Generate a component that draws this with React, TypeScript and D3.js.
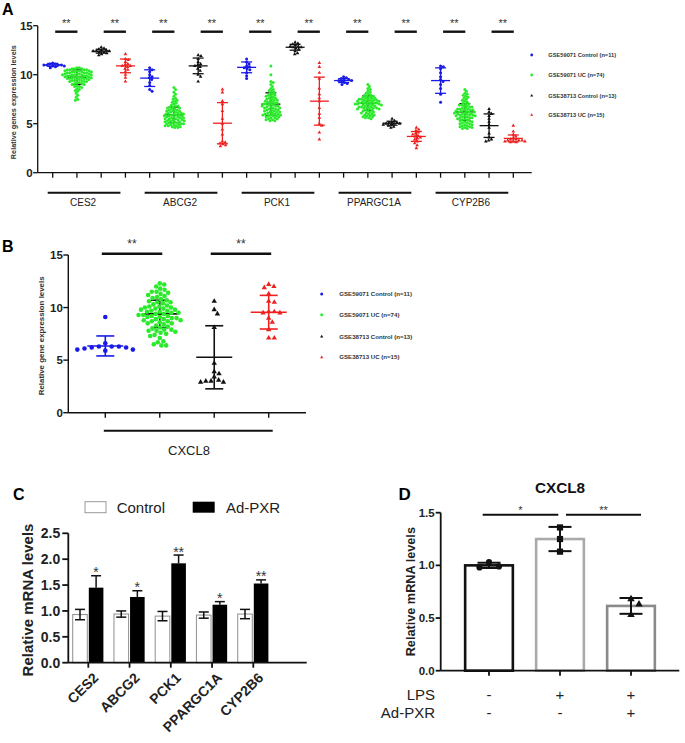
import React from 'react';
import * as d3 from 'd3';

const FONT = "'Liberation Sans', Arial, Helvetica, sans-serif";

// ---------- Panel A / B shared cohorts ----------
const cohortLabels = ['GSE59071 Control (n=11)', 'GSE59071 UC (n=74)', 'GSE38713 Control (n=13)', 'GSE38713 UC (n=15)'];
const cohortColors = ['#1a1ae6', '#2bea2b', '#111111', '#ee2020'];
const cohortBarColors = ['#1a1ae6', '#111111', '#111111', '#ee2020'];
const cohortShapes = ['circle', 'circle', 'triangle', 'triangle'];

// ---------- Panel A ----------
const genesA = ['CES2', 'ABCG2', 'PCK1', 'PPARGC1A', 'CYP2B6'];
const yTicksA = [0, 5, 10, 15];
const meansA = [11.0, 9.75, 12.4, 10.9, 9.65, 5.9, 10.9, 5.05, 10.75, 7.0, 12.8, 7.3, 9.4, 7.1, 5.05, 3.7, 9.4, 6.2, 4.8, 3.5];
const sdsA = [0.15, 0.75, 0.2, 0.7, 0.85, 0.8, 0.8, 2.1, 0.55, 1.15, 0.3, 2.45, 0.2, 0.75, 0.2, 0.5, 1.3, 0.85, 1.2, 0.35];

const ptsCES2 = [
  [11.1, 11.0, 11.0, 10.9, 11.0, 11.1, 10.8, 10.9, 11.0, 11.2, 10.7],
  [10.7, 10.7, 10.6, 10.6, 10.6, 10.5, 10.5, 10.5, 10.5, 10.4,
    10.4, 10.4, 10.4, 10.3, 10.3, 10.3, 10.3, 10.2, 10.2, 10.2,
    10.2, 10.1, 10.1, 10.1, 10.1, 10.0, 10.0, 10.0, 10.0, 10.0,
    9.9, 9.9, 9.9, 9.9, 9.8, 9.8, 9.8, 9.8, 9.7, 9.7,
    9.7, 9.7, 9.6, 9.6, 9.6, 9.6, 9.5, 9.5, 9.5, 9.4,
    9.4, 9.4, 9.3, 9.3, 9.3, 9.2, 9.2, 9.1, 9.1, 9.0,
    9.0, 8.9, 8.8, 8.8, 8.7, 8.6, 8.5, 8.4, 8.3, 8.1,
    7.9, 7.7, 7.5, 7.4],
  [12.8, 12.7, 12.6, 12.5, 12.5, 12.4, 12.4, 12.4, 12.3, 12.3, 12.2, 12.1, 12.0],
  [12.1, 11.6, 11.5, 11.3, 11.1, 11.0, 10.9, 10.9, 10.8, 10.6, 10.5, 10.3, 10.0, 9.7, 9.3],
];
const ptsABCG2 = [
  [10.7, 10.5, 10.3, 10.0, 9.8, 9.7, 9.5, 9.2, 8.9, 8.5, 8.3],
  [8.7, 8.5, 8.2, 8.0, 7.8, 7.6, 7.5, 7.4, 7.3, 7.2,
    7.1, 7.0, 6.9, 6.8, 6.8, 6.7, 6.7, 6.6, 6.6, 6.5,
    6.5, 6.4, 6.4, 6.3, 6.3, 6.3, 6.2, 6.2, 6.1, 6.1,
    6.1, 6.0, 6.0, 6.0, 5.9, 5.9, 5.9, 5.8, 5.8, 5.8,
    5.7, 5.7, 5.7, 5.6, 5.6, 5.6, 5.5, 5.5, 5.5, 5.4,
    5.4, 5.4, 5.3, 5.3, 5.3, 5.2, 5.2, 5.2, 5.1, 5.1,
    5.1, 5.0, 5.0, 5.0, 4.9, 4.9, 4.9, 4.8, 4.8, 4.8,
    4.7, 4.7, 4.6, 4.6],
  [12.0, 11.9, 11.6, 11.3, 11.1, 11.0, 10.9, 10.8, 10.6, 10.4, 10.0, 9.8, 9.3],
  [8.5, 8.2, 7.3, 7.0, 6.3, 5.5, 5.0, 4.4, 3.9, 3.2, 3.1, 3.0, 2.9, 2.8, 2.7],
];
const ptsPCK1 = [
  [11.6, 11.3, 11.1, 10.9, 10.8, 10.7, 10.6, 10.5, 10.2, 9.9, 9.6],
  [10.9, 10.0, 9.3, 9.2, 9.0, 8.8, 8.6, 8.5, 8.4, 8.3,
    8.2, 8.1, 8.0, 7.9, 7.9, 7.8, 7.8, 7.7, 7.6, 7.6,
    7.5, 7.5, 7.4, 7.4, 7.3, 7.3, 7.2, 7.2, 7.1, 7.1,
    7.0, 7.0, 7.0, 6.9, 6.9, 6.8, 6.8, 6.8, 6.7, 6.7,
    6.6, 6.6, 6.6, 6.5, 6.5, 6.4, 6.4, 6.4, 6.3, 6.3,
    6.2, 6.2, 6.2, 6.1, 6.1, 6.0, 6.0, 6.0, 5.9, 5.9,
    5.9, 5.8, 5.8, 5.8, 5.7, 5.7, 5.6, 5.6, 5.5, 5.5,
    5.4, 5.4, 5.3, 5.3],
  [13.3, 13.2, 13.1, 13.0, 12.9, 12.9, 12.8, 12.8, 12.7, 12.6, 12.4, 12.2, 12.1],
  [11.2, 10.8, 10.2, 9.6, 8.6, 8.0, 7.6, 7.3, 6.6, 6.0, 5.6, 5.0, 4.8, 4.1, 3.4],
];
const ptsPPARGC1A = [
  [9.8, 9.7, 9.6, 9.5, 9.5, 9.4, 9.4, 9.3, 9.2, 9.1, 9.0],
  [9.0, 8.8, 8.6, 8.5, 8.3, 8.2, 8.1, 8.0, 7.9, 7.9,
    7.8, 7.8, 7.7, 7.7, 7.6, 7.6, 7.5, 7.5, 7.5, 7.4,
    7.4, 7.4, 7.3, 7.3, 7.3, 7.2, 7.2, 7.2, 7.1, 7.1,
    7.1, 7.1, 7.0, 7.0, 7.0, 7.0, 6.9, 6.9, 6.9, 6.8,
    6.8, 6.8, 6.7, 6.7, 6.7, 6.6, 6.6, 6.6, 6.5, 6.5,
    6.5, 6.4, 6.4, 6.3, 6.3, 6.2, 6.2, 6.1, 6.1, 6.0,
    6.0, 5.9, 5.9, 5.8, 5.8, 5.7, 5.7, 5.6, 5.6, 5.5,
    7.6, 7.4, 7.0, 6.6],
  [5.5, 5.3, 5.2, 5.1, 5.1, 5.0, 5.0, 5.0, 4.9, 4.9, 4.8, 4.7, 4.6],
  [4.6, 4.4, 4.3, 4.1, 4.0, 3.9, 3.8, 3.7, 3.6, 3.5, 3.4, 3.2, 3.0, 2.8, 2.5],
];
const ptsCYP2B6 = [
  [10.9, 10.8, 10.6, 10.2, 9.8, 9.5, 9.3, 9.0, 8.6, 8.0, 7.2],
  [8.5, 8.3, 8.1, 8.0, 7.9, 7.8, 7.7, 7.6, 7.5, 7.4,
    7.3, 7.2, 7.1, 7.0, 7.0, 6.9, 6.9, 6.8, 6.8, 6.7,
    6.7, 6.6, 6.6, 6.5, 6.5, 6.5, 6.4, 6.4, 6.4, 6.3,
    6.3, 6.3, 6.2, 6.2, 6.2, 6.1, 6.1, 6.1, 6.0, 6.0,
    6.0, 5.9, 5.9, 5.9, 5.8, 5.8, 5.8, 5.7, 5.7, 5.6,
    5.6, 5.6, 5.5, 5.5, 5.4, 5.4, 5.3, 5.3, 5.2, 5.2,
    5.1, 5.1, 5.0, 5.0, 4.9, 4.9, 4.8, 4.8, 4.7, 4.7,
    4.6, 4.6, 4.5, 4.5],
  [6.5, 6.2, 6.0, 5.8, 5.5, 5.2, 4.9, 4.6, 4.0, 3.6, 3.4, 3.3, 3.2],
  [4.8, 4.2, 3.9, 3.7, 3.5, 3.4, 3.4, 3.3, 3.3, 3.3, 3.2, 3.2, 3.2, 3.1, 3.1],
];
const pointsA = [ptsCES2, ptsABCG2, ptsPCK1, ptsPPARGC1A, ptsCYP2B6];
const sigA = ['**', '**', '**', '**', '**', '**', '**', '**', '**', '**'];

// ---------- Panel B ----------
const geneB = 'CXCL8';
const yTicksB = [0, 5, 10, 15];
const meansB = [6.35, 9.4, 5.27, 9.56];
const sdsB = [0.95, 1.3, 3.0, 1.6];
const ptsCXCL8 = [
  [9.1, 6.6, 6.3, 6.3, 6.3, 6.2, 6.2, 6.1, 6.0, 6.0, 5.9],
  [12.3, 12.2, 12.0, 11.8, 11.7, 11.5, 11.5, 11.4, 11.3, 11.2,
    11.1, 11.0, 10.9, 10.8, 10.7, 10.6, 10.5, 10.5, 10.4, 10.3,
    10.2, 10.1, 10.1, 10.0, 10.0, 9.9, 9.9, 9.8, 9.8, 9.7,
    9.7, 9.6, 9.6, 9.5, 9.5, 9.4, 9.4, 9.3, 9.3, 9.2,
    9.2, 9.1, 9.1, 9.0, 9.0, 8.9, 8.9, 8.8, 8.8, 8.7,
    8.7, 8.6, 8.5, 8.5, 8.4, 8.3, 8.2, 8.1, 8.0, 7.9,
    7.9, 7.8, 7.8, 7.7, 7.6, 7.5, 7.4, 7.3, 7.1, 6.8,
    6.7, 6.5, 6.4, 6.4],
  [10.6, 9.8, 9.4, 8.1, 4.7, 3.9, 3.7, 3.4, 3.1, 3.0, 3.0, 2.9, 2.9],
  [12.2, 12.0, 11.9, 11.3, 10.6, 10.5, 9.6, 9.6, 9.5, 9.5, 9.0, 8.6, 7.9, 7.1, 7.1],
];
const sigB = ['**', '**'];

// ---------- Panel C ----------
const genesC = ['CES2', 'ABCG2', 'PCK1', 'PPARGC1A', 'CYP2B6'];
const seriesC = ['Control', 'Ad-PXR'];
const ctrlMeansC = [0.93, 0.94, 0.9, 0.92, 0.94];
const ctrlErrC = [0.1, 0.06, 0.09, 0.06, 0.09];
const pxrMeansC = [1.45, 1.27, 1.92, 1.12, 1.53];
const pxrErrC = [0.23, 0.12, 0.16, 0.06, 0.07];
const sigC = ['*', '*', '**', '*', '**'];
const yTicksC = [0, 0.5, 1.0, 1.5, 2.0, 2.5];

// ---------- Panel D ----------
const titleD = 'CXCL8';
const meansD = [1.0, 1.25, 0.615];
const sdsD = [0.025, 0.115, 0.075];
const pointsD = [[1.03, 0.98, 0.99], [1.36, 1.25, 1.13], [0.68, 0.63, 0.53]];
const shapesD = ['circle', 'square', 'triangle'];
const outlineD = ['#111111', '#aaaaaa', '#8a8a8a'];
const lpsRow = ['-', '+', '+'];
const pxrRow = ['-', '-', '+'];
const yTicksD = [0, 0.5, 1.0, 1.5];
const sigD = ['*', '**'];

// ---------- helpers ----------
function triPath(s: number) {
  const h = (s * Math.sqrt(3)) / 2;
  return `M0,${(-h * 2) / 3}L${s / 2},${h / 3}L${-s / 2},${h / 3}Z`;
}

function Marker({ shape, x, y, size, color }: any) {
  if (shape === 'circle') return <circle cx={x} cy={y} r={size / 2} fill={color} />;
  if (shape === 'square') return <rect x={x - size / 2} y={y - size / 2} width={size} height={size} fill={color} />;
  return <path d={triPath(size)} transform={`translate(${x},${y})`} fill={color} />;
}

function swarm(values: number[], y: (v: number) => number, d: number, step = 0.4) {
  const order = values.map((_, i) => i).sort((a, b) => values[b] - values[a]);
  const placed: { x: number; y: number }[] = [];
  const out: { x: number; y: number }[] = new Array(values.length);
  for (const i of order) {
    const py = y(values[i]);
    let ox = 0;
    for (let k = 0; k < 600; k++) {
      const cand = k === 0 ? 0 : (k % 2 === 1 ? 1 : -1) * Math.ceil(k / 2) * step;
      let ok = true;
      for (const p of placed) {
        const dx = p.x - cand, dy = p.y - py;
        if (dx * dx + dy * dy < d * d - 1e-6) { ok = false; break; }
      }
      if (ok) { ox = cand; break; }
    }
    placed.push({ x: ox, y: py });
    out[i] = { x: ox, y: py };
  }
  return out;
}

function MeanSD({ cx, mean, sd, y, half, cap, color, w }: any) {
  return (
    <g stroke={color} strokeWidth={w} fill="none">
      <line x1={cx} x2={cx} y1={y(mean + sd)} y2={y(mean - sd)} />
      <line x1={cx - cap} x2={cx + cap} y1={y(mean + sd)} y2={y(mean + sd)} />
      <line x1={cx - cap} x2={cx + cap} y1={y(mean - sd)} y2={y(mean - sd)} />
      <line x1={cx - half} x2={cx + half} y1={y(mean)} y2={y(mean)} />
    </g>
  );
}

// ---------- Panel A ----------
function PanelA() {
  const y = d3.scaleLinear().domain([0, 15]).range([172.7, 25.7]);
  const x = d3.scalePoint<number>().domain(d3.range(20)).range([52.7, 513.3]);
  const y0 = y(0);
  const xL = 37.7, xR = 531.7;
  return (
    <g>
      <text x={2} y={15} fontSize={16} fontWeight="bold">A</text>
      <text transform={`translate(15.5,${(y(15) + y0) / 2 + 3}) rotate(-90)`} textAnchor="middle" fontSize={7.3} fontWeight="bold" fill="#333">
        Relative genes expression levels
      </text>
      {d3.range(10).map((p) => {
        const a = x(p * 2)! + 2.5, b = x(p * 2 + 1)! + 0.5;
        return (
          <g key={p}>
            <line x1={a} x2={b} y1={31.7} y2={31.7} stroke="#111" strokeWidth={2.4} />
            <text x={(a + b) / 2} y={26.5} textAnchor="middle" fontSize={11} fill="#333">{sigA[p]}</text>
          </g>
        );
      })}
      {pointsA.map((gene, g) =>
        gene.map((vals, c) => {
          const i = g * 4 + c;
          const cx = x(i)!;
          const pos = swarm(vals, y, c === 1 ? 2.3 : 2.9);
          return (
            <g key={i}>
              <MeanSD cx={cx} mean={meansA[i]} sd={sdsA[i]} y={y} half={9.5} cap={5.5} color={cohortBarColors[c]} w={1.3} />
              {pos.map((p, k) => (
                <Marker key={k} shape={cohortShapes[c]} x={cx + p.x} y={p.y} size={cohortShapes[c] === 'circle' ? 3 : 3.6} color={cohortColors[c]} />
              ))}
            </g>
          );
        })
      )}
      <line x1={xL} x2={xL} y1={y(15)} y2={y0} stroke="#111" strokeWidth={1.3} />
      <line x1={xL} x2={xR} y1={y0} y2={y0} stroke="#111" strokeWidth={1.3} />
      {yTicksA.map((t) => (
        <g key={t}>
          <line x1={xL - 4.5} x2={xL} y1={y(t)} y2={y(t)} stroke="#111" strokeWidth={1.3} />
          <text x={xL - 5} y={y(t) + 4} textAnchor="end" fontSize={11.5} fontWeight="bold" fill="#222">{t}</text>
        </g>
      ))}
      {d3.range(20).map((i) => (
        <line key={i} x1={x(i)} x2={x(i)} y1={y0} y2={y0 + 5} stroke="#111" strokeWidth={1.3} />
      ))}
      {genesA.map((gname, g) => {
        const a = x(g * 4)! - 5, b = x(g * 4 + 3)! - 5;
        return (
          <g key={gname}>
            <line x1={a} x2={b} y1={192.7} y2={192.7} stroke="#111" strokeWidth={2} />
            <text x={(a + b) / 2 - 1} y={206} textAnchor="middle" fontSize={10} fill="#222">{gname}</text>
          </g>
        );
      })}
      {cohortLabels.map((lab, c) => {
        const ly = [55, 75, 95.7, 115][c];
        return (
          <g key={lab}>
            <Marker shape={cohortShapes[c]} x={531.7} y={ly} size={cohortShapes[c] === 'circle' ? 2.8 : 3} color={cohortColors[c]} />
            <text x={548.3} y={ly + 2} fontSize={5.7} fontWeight="bold" fill="#333">{lab}</text>
          </g>
        );
      })}
    </g>
  );
}

// ---------- Panel B ----------
function PanelB() {
  const y = d3.scaleLinear().domain([0, 15]).range([412.7, 255]);
  const x = d3.scalePoint<number>().domain(d3.range(4)).range([105.3, 268.7]);
  const y0 = y(0);
  const xL = 68.3, xR = 306;
  const collide = [7, 4.5, 5.2, 5.4];
  return (
    <g>
      <text x={2} y={251.7} fontSize={16} fontWeight="bold">B</text>
      <text transform={`translate(44,${(y(15) + y0) / 2 + 2}) rotate(-90)`} textAnchor="middle" fontSize={7.9} fontWeight="bold" fill="#333">
        Relative gene expression levels
      </text>
      {[0, 1].map((p) => {
        const a = x(p * 2)! - 3.5, b = x(p * 2 + 1)! + 2.5;
        return (
          <g key={p}>
            <line x1={a} x2={b} y1={253.7} y2={253.7} stroke="#111" strokeWidth={2.4} />
            <text x={(a + b) / 2} y={248} textAnchor="middle" fontSize={12} fill="#333">{sigB[p]}</text>
          </g>
        );
      })}
      {ptsCXCL8.map((vals, c) => {
        const cx = x(c)!;
        const pos = swarm(vals, y, collide[c]);
        return (
          <g key={c}>
            <MeanSD cx={cx} mean={meansB[c]} sd={sdsB[c]} y={y} half={18} cap={9} color={cohortBarColors[c]} w={1.6} />
            {pos.map((p, k) => (
              <Marker key={k} shape={cohortShapes[c]} x={cx + p.x} y={p.y} size={cohortShapes[c] === 'circle' ? 4.6 : 5.4} color={cohortColors[c]} />
            ))}
          </g>
        );
      })}
      <line x1={xL} x2={xL} y1={y(15)} y2={y0} stroke="#111" strokeWidth={1.4} />
      <line x1={xL} x2={xR} y1={y0} y2={y0} stroke="#111" strokeWidth={1.4} />
      {yTicksB.map((t) => (
        <g key={t}>
          <line x1={xL - 5} x2={xL} y1={y(t)} y2={y(t)} stroke="#111" strokeWidth={1.4} />
          <text x={xL - 5.5} y={y(t) + 4} textAnchor="end" fontSize={11.5} fontWeight="bold" fill="#222">{t}</text>
        </g>
      ))}
      {d3.range(4).map((i) => (
        <line key={i} x1={x(i)} x2={x(i)} y1={y0} y2={y0 + 5} stroke="#111" strokeWidth={1.4} />
      ))}
      <line x1={x(0)! - 1.5} x2={x(3)! + 4} y1={430.7} y2={430.7} stroke="#111" strokeWidth={2} />
      <text x={(x(0)! + x(3)!) / 2 + 2} y={455} textAnchor="middle" fontSize={13} fill="#222">{geneB}</text>
      {cohortLabels.map((lab, c) => {
        const ly = [294, 314.7, 336.7, 357.3][c];
        return (
          <g key={lab}>
            <Marker shape={cohortShapes[c]} x={321.7} y={ly} size={cohortShapes[c] === 'circle' ? 3 : 3.2} color={cohortColors[c]} />
            <text x={339.3} y={ly + 2} fontSize={6.1} fontWeight="bold" fill="#333">{lab}</text>
          </g>
        );
      })}
    </g>
  );
}

// ---------- Panel C ----------
function PanelC() {
  const y = d3.scaleLinear().domain([0, 2.5]).range([662.7, 533.3]);
  const x = d3.scalePoint<string>().domain(genesC).range([88.3, 253.3]);
  const y0 = y(0);
  const xL = 68.3, xR = 306.7;
  const bw = 14.6;
  return (
    <g>
      <text x={13} y={500} fontSize={16} fontWeight="bold">C</text>
      <rect x={85} y={501.7} width={21} height={11} fill="#fff" stroke="#999" strokeWidth={1} />
      <text x={116.7} y={512.7} fontSize={15} fill="#222">{seriesC[0]}</text>
      <rect x={192.7} y={501.7} width={22} height={11} fill="#000" />
      <text x={226} y={512.7} fontSize={15} fill="#222">{seriesC[1]}</text>
      <text transform={`translate(33,${(y(2.5) + y0) / 2 + 2}) rotate(-90)`} textAnchor="middle" fontSize={15} fontWeight="bold" fill="#222">
        Relative mRNA levels
      </text>
      {genesC.map((gname, i) => {
        const c = x(gname)!;
        const cx1 = c - 1 - bw / 2, cx2 = c + 0.5 + bw / 2;
        return (
          <g key={gname}>
            <rect x={c - 1 - bw} y={y(ctrlMeansC[i])} width={bw} height={y0 - y(ctrlMeansC[i])} fill="#fff" stroke="#999" strokeWidth={1.1} />
            <rect x={c + 0.5} y={y(pxrMeansC[i])} width={bw} height={y0 - y(pxrMeansC[i])} fill="#000" />
            <g stroke="#111" strokeWidth={1.5}>
              <line x1={cx1} x2={cx1} y1={y(ctrlMeansC[i] + ctrlErrC[i])} y2={y(ctrlMeansC[i] - ctrlErrC[i])} />
              <line x1={cx1 - 5} x2={cx1 + 5} y1={y(ctrlMeansC[i] + ctrlErrC[i])} y2={y(ctrlMeansC[i] + ctrlErrC[i])} />
              <line x1={cx1 - 5} x2={cx1 + 5} y1={y(ctrlMeansC[i] - ctrlErrC[i])} y2={y(ctrlMeansC[i] - ctrlErrC[i])} />
              <line x1={cx2} x2={cx2} y1={y(pxrMeansC[i] + pxrErrC[i])} y2={y(pxrMeansC[i])} />
              <line x1={cx2 - 5} x2={cx2 + 5} y1={y(pxrMeansC[i] + pxrErrC[i])} y2={y(pxrMeansC[i] + pxrErrC[i])} />
            </g>
            <text x={cx2} y={y(pxrMeansC[i] + pxrErrC[i]) + 1.5} textAnchor="middle" fontSize={14} fill="#333">{sigC[i]}</text>
            <text transform={`translate(${c + 4},${y0 + 9}) rotate(-45)`} textAnchor="end" dy="0.7em" fontSize={14} fontWeight="bold" fill="#222">{gname}</text>
          </g>
        );
      })}
      <line x1={xL} x2={xL} y1={y(2.5)} y2={y0} stroke="#111" strokeWidth={1.8} />
      <line x1={xL} x2={xR} y1={y0} y2={y0} stroke="#111" strokeWidth={1.8} />
      {yTicksC.map((t) => (
        <g key={t}>
          <line x1={xL - 6} x2={xL} y1={y(t)} y2={y(t)} stroke="#111" strokeWidth={1.8} />
          <text x={xL - 8} y={y(t) + 5} textAnchor="end" fontSize={14} fontWeight="bold" fill="#222">{t.toFixed(1)}</text>
        </g>
      ))}
      {genesC.map((gname) => (
        <line key={gname} x1={x(gname)} x2={x(gname)} y1={y0} y2={y0 + 5} stroke="#111" strokeWidth={1.8} />
      ))}
    </g>
  );
}

// ---------- Panel D ----------
function PanelD() {
  const y = d3.scaleLinear().domain([0, 1.5]).range([670.7, 512.7]);
  const x = d3.scalePoint<number>().domain([0, 1, 2]).range([489, 631]);
  const y0 = y(0);
  const xL = 440.7, xR = 679.3;
  const bw = 47.7;
  return (
    <g>
      <text x={398.5} y={500} fontSize={17} fontWeight="bold">D</text>
      <text x={560} y={493.3} textAnchor="middle" fontSize={15.3} fontWeight="bold" fill="#111">{titleD}</text>
      <text transform={`translate(415,${(y(1.5) + y0) / 2}) rotate(-90)`} textAnchor="middle" fontSize={12.7} fontWeight="bold" fill="#222">
        Relative mRNA levels
      </text>
      {meansD.map((m, i) => {
        const c = x(i)!;
        const pos = swarm(pointsD[i], y, i === 0 ? 10.5 : 9.5, 0.5);
        return (
          <g key={i}>
            <rect x={c - bw / 2} y={y(m)} width={bw} height={y0 - y(m)} fill="#fff" stroke={outlineD[i]} strokeWidth={2.6} />
            {pos.map((p, k) => (
              <Marker key={k} shape={shapesD[i]} x={c + p.x} y={p.y} size={shapesD[i] === 'triangle' ? 7.5 : 6.2} color="#111" />
            ))}
            <MeanSD cx={c} mean={m} sd={sdsD[i]} y={y} half={0} cap={11.5} color="#111" w={2} />
          </g>
        );
      })}
      {[0, 1].map((p) => {
        const a = p === 0 ? x(0)! - 6.3 : x(1)! + 6, b = p === 0 ? x(1)! - 1.7 : x(2)! + 10;
        return (
          <g key={p}>
            <line x1={a} x2={b} y1={514.7} y2={514.7} stroke="#111" strokeWidth={2} />
            <text x={(a + b) / 2} y={514} textAnchor="middle" fontSize={11} fill="#333">{sigD[p]}</text>
          </g>
        );
      })}
      <line x1={xL} x2={xL} y1={y(1.5)} y2={y0} stroke="#111" strokeWidth={1.8} />
      <line x1={xL} x2={xR} y1={y0} y2={y0} stroke="#111" strokeWidth={1.8} />
      {yTicksD.map((t) => (
        <g key={t}>
          <line x1={xL - 5} x2={xL} y1={y(t)} y2={y(t)} stroke="#111" strokeWidth={1.8} />
          <text x={xL - 6} y={y(t) + 4} textAnchor="end" fontSize={11.5} fontWeight="bold" fill="#222">{t.toFixed(1)}</text>
        </g>
      ))}
      {[0, 1, 2].map((i) => (
        <g key={i}>
          <line x1={x(i)} x2={x(i)} y1={y0} y2={y0 + 5} stroke="#111" strokeWidth={1.8} />
          <text x={x(i)} y={700} textAnchor="middle" fontSize={15} fill="#222">{lpsRow[i]}</text>
          <text x={x(i)} y={718.3} textAnchor="middle" fontSize={15} fill="#222">{pxrRow[i]}</text>
        </g>
      ))}
      <text x={435} y={700} textAnchor="end" fontSize={15} fill="#222">LPS</text>
      <text x={435} y={718.3} textAnchor="end" fontSize={15} fill="#222">Ad-PXR</text>
    </g>
  );
}

export default function App() {
  return (
    <svg width={685} height={743} viewBox="0 0 685 743" style={{ position: 'absolute', left: 0, top: 0, background: '#fff' }} fontFamily={FONT}>
      <rect width={685} height={743} fill="#fff" />
      <PanelA />
      <PanelB />
      <PanelC />
      <PanelD />
    </svg>
  );
}
